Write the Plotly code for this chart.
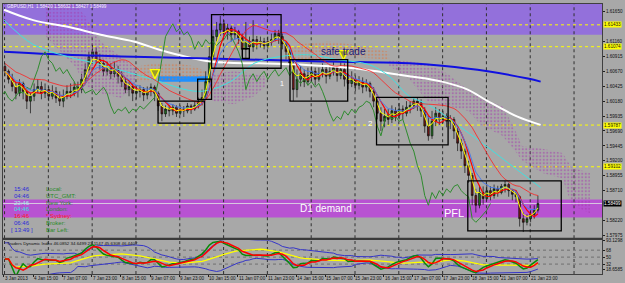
import numpy as np
import pandas as pd
import plotly.graph_objects as go

# ---------------- data (GBPUSD H1, 3-21 Jan 2013, 2-hour candles) ----------------
first_open = 1.6075
close = [1.6067, 1.6054, 1.6042, 1.6031, 1.6047, 1.6034, 1.6018, 1.6026, 1.6037, 1.6042,
         1.6031, 1.6037, 1.6026, 1.6034, 1.6023, 1.6018, 1.6026, 1.6034, 1.6031, 1.6041,
         1.6037, 1.6054, 1.6070, 1.6091, 1.6099, 1.6086, 1.6080, 1.6067, 1.6073, 1.6063,
         1.6070, 1.6059, 1.6050, 1.6037, 1.6042, 1.6031, 1.6034, 1.6037, 1.6028, 1.6034,
         1.6041, 1.6031, 1.6010, 1.5997, 1.6005, 1.6002, 1.6008, 1.5998, 1.6005, 1.6002,
         1.6010, 1.6005, 1.6011, 1.6018, 1.6024, 1.6050, 1.6091, 1.6124, 1.6135, 1.6145,
         1.6132, 1.6138, 1.6127, 1.6132, 1.6122, 1.6103, 1.6116, 1.6107, 1.6119, 1.6112,
         1.6116, 1.6109, 1.6116, 1.6119, 1.6129, 1.6124, 1.6112, 1.6099, 1.6080, 1.6037,
         1.6054, 1.6063, 1.6050, 1.6060, 1.6067, 1.6054, 1.6063, 1.6070, 1.6059, 1.6067,
         1.6073, 1.6060, 1.6070, 1.6054, 1.6047, 1.6054, 1.6044, 1.6050, 1.6041, 1.6047,
         1.6034, 1.6018, 1.5998, 1.5985, 1.5993, 1.5988, 1.6002, 1.5995, 1.6005, 1.5998,
         1.6008, 1.6011, 1.6018, 1.6015, 1.6002, 1.5977, 1.5961, 1.5985, 1.5998, 1.5988,
         1.5993, 1.5985, 1.5988, 1.5969, 1.5949, 1.5936, 1.5912, 1.5896, 1.5863, 1.5847,
         1.5868, 1.5858, 1.5871, 1.5863, 1.5874, 1.5868, 1.5878, 1.5881, 1.5871, 1.5865,
         1.5861, 1.5825, 1.5819, 1.5825, 1.5832, 1.5839, 1.5850]
high = [1.6080, 1.6070, 1.6063, 1.6050, 1.6054, 1.6050, 1.6037, 1.6031, 1.6047, 1.6054,
        1.6050, 1.6047, 1.6042, 1.6044, 1.6041, 1.6034, 1.6037, 1.6044, 1.6047, 1.6050,
        1.6050, 1.6063, 1.6080, 1.6099, 1.6111, 1.6106, 1.6096, 1.6086, 1.6083, 1.6080,
        1.6083, 1.6076, 1.6067, 1.6057, 1.6050, 1.6047, 1.6042, 1.6044, 1.6041, 1.6042,
        1.6047, 1.6044, 1.6034, 1.6015, 1.6011, 1.6011, 1.6013, 1.6011, 1.6011, 1.6010,
        1.6015, 1.6013, 1.6018, 1.6024, 1.6037, 1.6067, 1.6107, 1.6135, 1.6148, 1.6158,
        1.6151, 1.6145, 1.6142, 1.6140, 1.6135, 1.6129, 1.6148, 1.6124, 1.6151, 1.6125,
        1.6124, 1.6122, 1.6124, 1.6129, 1.6135, 1.6135, 1.6129, 1.6116, 1.6103, 1.6083,
        1.6070, 1.6076, 1.6070, 1.6073, 1.6076, 1.6073, 1.6073, 1.6080, 1.6075, 1.6078,
        1.6083, 1.6076, 1.6083, 1.6080, 1.6063, 1.6067, 1.6060, 1.6059, 1.6057, 1.6054,
        1.6050, 1.6041, 1.6021, 1.6008, 1.6005, 1.6005, 1.6011, 1.6008, 1.6015, 1.6011,
        1.6018, 1.6018, 1.6024, 1.6023, 1.6021, 1.6008, 1.5993, 1.6002, 1.6008, 1.6005,
        1.6002, 1.5998, 1.5995, 1.5992, 1.5977, 1.5956, 1.5940, 1.5920, 1.5900, 1.5874,
        1.5879, 1.5878, 1.5881, 1.5878, 1.5881, 1.5879, 1.5882, 1.5887, 1.5884, 1.5874,
        1.5871, 1.5863, 1.5835, 1.5832, 1.5839, 1.5847, 1.5863]
low = [1.6059, 1.6047, 1.6034, 1.6021, 1.6026, 1.6021, 1.6005, 1.5998, 1.6018, 1.6031,
       1.6021, 1.6023, 1.6018, 1.6021, 1.6015, 1.6010, 1.6008, 1.6021, 1.6023, 1.6026,
       1.6024, 1.6031, 1.6050, 1.6067, 1.6083, 1.6080, 1.6070, 1.6059, 1.6060, 1.6054,
       1.6057, 1.6047, 1.6041, 1.6031, 1.6026, 1.6018, 1.6021, 1.6024, 1.6018, 1.6021,
       1.6026, 1.6018, 1.6002, 1.5985, 1.5992, 1.5993, 1.5995, 1.5992, 1.5995, 1.5992,
       1.5998, 1.5997, 1.6002, 1.6006, 1.6011, 1.6021, 1.6047, 1.6086, 1.6116, 1.6125,
       1.6124, 1.6119, 1.6116, 1.6119, 1.6112, 1.6091, 1.6088, 1.6096, 1.6099, 1.6103,
       1.6106, 1.6103, 1.6104, 1.6109, 1.6116, 1.6112, 1.6103, 1.6086, 1.6067, 1.6018,
       1.6024, 1.6042, 1.6041, 1.6044, 1.6050, 1.6044, 1.6050, 1.6057, 1.6047, 1.6054,
       1.6060, 1.6050, 1.6054, 1.6042, 1.6037, 1.6041, 1.6034, 1.6037, 1.6031, 1.6034,
       1.6024, 1.6008, 1.5988, 1.5969, 1.5975, 1.5979, 1.5982, 1.5985, 1.5988, 1.5988,
       1.5993, 1.5998, 1.6005, 1.6002, 1.5992, 1.5966, 1.5953, 1.5956, 1.5977, 1.5979,
       1.5982, 1.5975, 1.5972, 1.5956, 1.5936, 1.5923, 1.5900, 1.5884, 1.5847, 1.5835,
       1.5842, 1.5848, 1.5855, 1.5855, 1.5858, 1.5861, 1.5865, 1.5868, 1.5861, 1.5855,
       1.5852, 1.5812, 1.5803, 1.5814, 1.5819, 1.5825, 1.5835]

# slow averages (hour-bar index, price)
white_x = [0, 16, 35, 53, 71, 89, 113, 140, 162, 189, 222, 240, 254, 265, 281, 294]
white_y = [1.6168, 1.6151, 1.6140, 1.6127, 1.6116, 1.6099, 1.6083, 1.6080, 1.6078, 1.6073,
           1.6059, 1.6050, 1.6037, 1.6018, 1.5993, 1.5979]
blue_x = [0, 35, 71, 113, 140, 178, 222, 240, 265, 287, 294]
blue_y = [1.6099, 1.6094, 1.6091, 1.6088, 1.6086, 1.6083, 1.6080, 1.6076, 1.6067, 1.6055, 1.6050]
cyan_x = [0, 16, 35, 53, 80, 107, 124, 137, 151, 167, 183, 200, 211, 222, 232, 258, 276, 294]
cyan_y = [1.6151, 1.6111, 1.6091, 1.6078, 1.6055, 1.6034, 1.6050, 1.6080, 1.6091, 1.6094,
          1.6086, 1.6078, 1.6059, 1.6026, 1.6013, 1.5958, 1.5917, 1.5876]

# ichimoku cloud pieces: (bars, top, bottom)
cloud1_x = [23, 31, 39, 45, 53, 64, 72]
cloud1_top = [1.6176, 1.6176, 1.6176, 1.6156, 1.6116, 1.6091, 1.6072]
cloud1_bot = [1.6124, 1.6099, 1.6075, 1.6042, 1.6031, 1.6023, 1.6042]
cloud2_x = [73, 83, 94, 105, 110]
cloud2_top = [1.6075, 1.6080, 1.6080, 1.6075, 1.6067]
cloud2_bot = [1.6050, 1.6050, 1.6054, 1.6057, 1.6060]
cloud3_x = [114, 126, 137, 143]
cloud3_top = [1.6063, 1.6067, 1.6063, 1.6059]
cloud3_bot = [1.6018, 1.6013, 1.6026, 1.6042]
cloud4_x = [154, 162, 178, 189, 200, 211]
cloud4_top = [1.6099, 1.6112, 1.6116, 1.6112, 1.6106, 1.6099]
cloud4_bot = [1.6088, 1.6086, 1.6089, 1.6091, 1.6089, 1.6086]
cloud5_x = [211, 222, 232, 243, 254, 262, 273, 279, 284, 295, 306, 311, 321]
cloud5_top = [1.6086, 1.6083, 1.6080, 1.6063, 1.6037, 1.6021, 1.6010, 1.5977, 1.5944,
              1.5940, 1.5933, 1.5909, 1.5900]
cloud5_bot = [1.6076, 1.6054, 1.6018, 1.6010, 1.6002, 1.5977, 1.5961, 1.5940, 1.5920,
              1.5900, 1.5891, 1.5847, 1.5834]

# zones, levels, boxes
supply_zone = (1.6127, 1.6190)
demand_zone = (1.58271, 1.58564)
yellow_levels = [1.61433, 1.61074, 1.59787, 1.59102]
bid = 1.58499
boxes = [(84.4, 109.9, 1.5982, 1.6018), (106.1, 113.7, 1.6021, 1.6054),
         (113.7, 151.8, 1.6072, 1.6160), (130.6, 134.4, 1.6088, 1.6104),
         (156.7, 188.3, 1.6018, 1.6086), (204.1, 243.3, 1.5946, 1.6024),
         (254.1, 305.3, 1.5805, 1.5887)]
blue_zone = (84.4, 112.7, 1.6050, 1.6059)
arrows_x = [82.7, 186.0]
arrows_y = [1.6055, 1.6086]

price_ticks = [1.61650, 1.61160, 1.60915, 1.60670, 1.60425, 1.60180, 1.59935,
               1.59690, 1.59445, 1.59200, 1.58955, 1.58710, 1.58220, 1.57975]
time_labels = ["3 Jan 2013", "4 Jan 15:00", "7 Jan 07:00", "7 Jan 23:00", "8 Jan 15:00",
               "9 Jan 07:00", "9 Jan 23:00", "10 Jan 15:00", "11 Jan 07:00", "11 Jan 23:00",
               "14 Jan 15:00", "15 Jan 07:00", "15 Jan 23:00", "16 Jan 15:00", "17 Jan 07:00",
               "17 Jan 23:00", "18 Jan 15:00", "21 Jan 07:00", "21 Jan 23:00"]
time_label_bars = [16 * k for k in range(len(time_labels))]
day_lines = [0.3 + 24 * k for k in range(14)]

clock_times = ["15:46", "04:46", "23:46", "04:46", "16:46", "06:46", "[ 13:49 ]"]
clock_names = ["Local:", "UTC_GMT:", "New York:", "London:", "* Sydney:", "Broker:", "Bar Left:"]
clock_tcol = ["#2b2bd8", "#2b2bd8", "#9ff5e8", "#30e0e0", "#ff1a1a", "#2b2bd8", "#2b2bd8"]
clock_ncol = ["#2a8a2a", "#2a8a2a", "#2a8a2a", "#2a8a2a", "#ff1a1a", "#2a8a2a", "#2a8a2a"]

# ---------------- geometry helpers ----------------
W, H = 625, 283
ML, MR, MT, MB = 2, 20, 2, 9
PW, PH = W - ML - MR, H - MT - MB
BARPX = 1.8375
X0 = -1 / BARPX
X1 = (605 - 3) / BARPX


def px(xp):
    return (xp - ML) / PW


def py(yp):
    return (H - MB - yp) / PH


GRAY = "#a8a8a8"
FONT = "Liberation Sans, Arial, sans-serif"

n = len(close)
bars = np.array([2 * i + 0.5 for i in range(n)])
opn = [first_open] + close[:-1]
hi = [max(h, o, c) for h, o, c in zip(high, opn, close)]
lo = [min(l, o, c) for l, o, c in zip(low, opn, close)]
s = pd.Series(close)

fig = go.Figure()


def cloud(xs, top, bot, col):
    fig.add_trace(go.Scatter(
        x=list(xs) + list(xs)[::-1], y=list(top) + list(bot)[::-1],
        fill="toself", mode="lines", line=dict(width=0, color="rgba(0,0,0,0)"),
        fillcolor="rgba(0,0,0,0)",
        fillpattern=dict(shape=".", fgcolor=col, bgcolor="rgba(0,0,0,0)", size=3.5, solidity=0.3),
        hoverinfo="skip", xaxis="x", yaxis="y"))


PINK = "#a43aac"
ORANGE = "#e0743a"
cloud(cloud1_x, cloud1_top, cloud1_bot, PINK)
cloud(cloud2_x, cloud2_top, cloud2_bot, ORANGE)
cloud(cloud3_x, cloud3_top, cloud3_bot, PINK)
cloud(cloud4_x, cloud4_top, cloud4_bot, ORANGE)
cloud(cloud5_x, cloud5_top, cloud5_bot, PINK)

# slow lines
fig.add_trace(go.Scatter(x=white_x, y=white_y, mode="lines", line=dict(color="white", width=2, shape="spline"),
                         xaxis="x", yaxis="y"))
fig.add_trace(go.Scatter(x=blue_x, y=blue_y, mode="lines", line=dict(color="#1010e0", width=2, shape="spline"),
                         xaxis="x", yaxis="y"))
fig.add_trace(go.Scatter(x=cyan_x, y=cyan_y, mode="lines", line=dict(color="#40e0e0", width=1, shape="spline"),
                         xaxis="x", yaxis="y"))
# chikou span (close shifted back 26 hours)
fig.add_trace(go.Scatter(x=bars - 26, y=close, mode="lines", line=dict(color="#2e8b2e", width=1),
                         xaxis="x", yaxis="y"))

# candles
fig.add_trace(go.Candlestick(
    x=bars, open=opn, high=hi, low=lo, close=close,
    increasing=dict(line=dict(color="#101010", width=0.7), fillcolor="#1f7a1f"),
    decreasing=dict(line=dict(color="#101010", width=0.7), fillcolor="#7a1515"),
    whiskerwidth=0, xaxis="x", yaxis="y", hoverinfo="skip"))

# fast averages
fig.add_trace(go.Scatter(x=bars, y=pd.Series(high).rolling(12, min_periods=1).mean(), mode="lines",
                         line=dict(color="#ff2020", width=0.8), xaxis="x", yaxis="y"))
fig.add_trace(go.Scatter(x=bars, y=s.rolling(5, min_periods=1).mean(), mode="lines",
                         line=dict(color="#ff0000", width=1.2), xaxis="x", yaxis="y"))
fig.add_trace(go.Scatter(x=bars, y=s.ewm(span=7, adjust=False).mean(), mode="lines",
                         line=dict(color="#4a7ae8", width=1), xaxis="x", yaxis="y"))
fig.add_trace(go.Scatter(x=bars, y=s.ewm(span=3, adjust=False).mean(), mode="lines",
                         line=dict(color="#ffff00", width=1), xaxis="x", yaxis="y"))

# arrows
fig.add_trace(go.Scatter(x=arrows_x, y=arrows_y, mode="markers",
                         marker=dict(symbol="arrow-down", size=9, color="#9a9a28",
                                     line=dict(color="#ffff00", width=1.3)),
                         xaxis="x", yaxis="y"))

# ---------------- TDI ----------------
d = s.diff().fillna(0)
up = d.clip(lower=0).ewm(alpha=1 / 7, adjust=True).mean()
dn = (-d.clip(upper=0)).ewm(alpha=1 / 7, adjust=True).mean()
rsi = (100 - 100 / (1 + up / dn.replace(0, np.nan))).fillna(50)
rsi.iloc[:2] = 45
green = rsi.rolling(2, min_periods=1).mean()
red = rsi.rolling(4, min_periods=1).mean()
base = rsi.rolling(17, min_periods=1).mean()
sd = rsi.rolling(17, min_periods=3).std().bfill()
for yv, col, w in [(base + 1.6185 * sd, "#3535c8", 1), (base - 1.6185 * sd, "#3535c8", 1),
                   (base, "#ffff00", 1.3), (green, "#0a8a0a", 1.5), (red, "#ff0000", 1.5)]:
    fig.add_trace(go.Scatter(x=bars, y=yv, mode="lines", line=dict(color=col, width=w),
                             xaxis="x2", yaxis="y2"))

# ---------------- shapes ----------------
shapes = []
shapes.append(dict(type="rect", xref="paper", x0=0, x1=1, yref="y", y0=supply_zone[0], y1=supply_zone[1],
                   fillcolor="#9370db", line=dict(width=0), layer="below"))
shapes.append(dict(type="rect", xref="paper", x0=0, x1=1, yref="y", y0=demand_zone[0], y1=demand_zone[1],
                   fillcolor="#b852d2", line=dict(width=0), layer="below"))
shapes.append(dict(type="line", xref="paper", x0=0, x1=1, yref="y", y0=bid, y1=bid,
                   line=dict(color="#d8c8e0", width=1), layer="below"))
for xv in day_lines:
    for yr in ["y", "y2"]:
        shapes.append(dict(type="line", xref="x", x0=xv, x1=xv, yref=yr + " domain", y0=0, y1=1,
                           line=dict(color="#303030", width=1, dash="dot"), layer="below"))
for lv in yellow_levels:
    shapes.append(dict(type="line", xref="paper", x0=0, x1=1, yref="y", y0=lv, y1=lv,
                       line=dict(color="#ffff00", width=1, dash="dot"), layer="below"))
for lv in [68, 50, 32]:
    shapes.append(dict(type="line", xref="paper", x0=0, x1=1, yref="y2", y0=lv, y1=lv,
                       line=dict(color="#707070", width=1, dash="dot"), layer="below"))
shapes.append(dict(type="rect", xref="x", x0=blue_zone[0], x1=blue_zone[1], yref="y",
                   y0=blue_zone[2], y1=blue_zone[3], fillcolor="#1e90ff", line=dict(width=0), layer="below"))
for b0, b1, p0, p1 in boxes:
    shapes.append(dict(type="rect", xref="x", x0=b0, x1=b1, yref="y", y0=p0, y1=p1,
                       line=dict(color="black", width=1.3), fillcolor="rgba(0,0,0,0)", layer="above"))
# panel separator
shapes.append(dict(type="line", xref="paper", x0=0, x1=1, yref="paper", y0=py(238.5), y1=py(238.5),
                   line=dict(color="#3a3a3a", width=2)))

# ---------------- annotations ----------------
ann = []
for t, b in zip(time_labels, time_label_bars):
    ann.append(dict(x=b, xref="x2", y=py(278.5), yref="paper", text=t, showarrow=False,
                    xanchor="left", yanchor="middle", xshift=-1, font=dict(size=4.6, color="#111111", family=FONT)))
ann.append(dict(x=px(4), xref="paper", y=py(5), yref="paper",
                text="GBPUSD,H1  1.58420 1.58632 1.58427 1.58499", showarrow=False,
                xanchor="left", yanchor="middle", font=dict(size=4.6, color="#f4eef8", family=FONT)))
ann.append(dict(x=px(4), xref="paper", y=py(243.5), yref="paper",
                text="Traders Dynamic Index 46.0852 34.6499 23.1147 45.6308 46.4407", showarrow=False,
                xanchor="left", yanchor="middle", font=dict(size=4.4, color="#111111", family=FONT)))
rows_y = [188, 195, 202, 209, 216, 223, 230]
for t, nm, tc, nc, yy in zip(clock_times, clock_names, clock_tcol, clock_ncol, rows_y):
    ann.append(dict(x=px(21), xref="paper", y=py(yy), yref="paper", text=t, showarrow=False,
                    xanchor="center", yanchor="middle", font=dict(size=6, color=tc, family=FONT)))
    ann.append(dict(x=px(43), xref="paper", y=py(yy), yref="paper", text=nm, showarrow=False,
                    xanchor="left", yanchor="middle", font=dict(size=6, color=nc, family=FONT)))
ann.append(dict(x=186, xref="x", y=1.6099, yref="y", text="safe trade", showarrow=False,
                font=dict(size=10, color="#1c1c78", family=FONT)))
ann.append(dict(x=176.3, xref="x", y=1.5842, yref="y", text="D1 demand", showarrow=False,
                font=dict(size=10, color="white", family=FONT)))
ann.append(dict(x=246.5, xref="x", y=1.5835, yref="y", text="PFL", showarrow=False,
                font=dict(size=11, color="white", family=FONT)))
ann.append(dict(x=152.4, xref="x", y=1.6047, yref="y", text="1", showarrow=False,
                font=dict(size=7, color="white", family=FONT)))
ann.append(dict(x=200.8, xref="x", y=1.5982, yref="y", text="2", showarrow=False,
                font=dict(size=8, color="white", family=FONT)))
for lv in yellow_levels:
    ann.append(dict(x=1, xref="paper", y=lv, yref="y", text="%.5f" % lv, showarrow=False,
                    xanchor="left", yanchor="middle", xshift=1, bgcolor="#ffff00", borderpad=0,
                    font=dict(size=4.6, color="#111111", family=FONT)))
ann.append(dict(x=1, xref="paper", y=bid, yref="y", text="%.5f" % bid, showarrow=False,
                xanchor="left", yanchor="middle", xshift=1, bgcolor="#000000", borderpad=0,
                font=dict(size=4.6, color="white", family=FONT)))

fig.update_layout(
    width=W, height=H, margin=dict(l=ML, r=MR, t=MT, b=MB),
    paper_bgcolor=GRAY, plot_bgcolor=GRAY, showlegend=False, hovermode=False,
    shapes=shapes, annotations=ann,
    xaxis=dict(domain=[0, 1], anchor="y", range=[X0, X1], showgrid=False, zeroline=False,
               showticklabels=False, rangeslider=dict(visible=False), showline=True,
               linecolor="#404040", linewidth=1, mirror=True),
    xaxis2=dict(domain=[0, 1], anchor="y2", range=[X0, X1], matches="x", showgrid=False, zeroline=False,
                showticklabels=False, tickvals=time_label_bars, ticks="outside", ticklen=2,
                tickcolor="#202020", showline=True, linecolor="#404040", linewidth=1, mirror=True),
    yaxis=dict(domain=[py(238), 1], range=[1.57928, 1.61775], side="right", showgrid=False,
               zeroline=False, tickvals=price_ticks, ticktext=["%.5f" % v for v in price_ticks],
               ticks="outside", ticklen=2, tickcolor="#202020",
               tickfont=dict(size=4.6, color="#111111", family=FONT),
               showline=True, linecolor="#404040", linewidth=1, mirror=True),
    yaxis2=dict(domain=[0, py(240)], range=[6.3, 93.7], side="right", showgrid=False, zeroline=False,
                tickvals=[93.1298, 68, 50, 32, 18.6585], ticktext=["93.1298", "68", "50", "32", "18.6585"],
                ticks="outside", ticklen=2, tickcolor="#202020",
                tickfont=dict(size=4.6, color="#111111", family=FONT),
                showline=True, linecolor="#404040", linewidth=1, mirror=True),
)

fig.write_html("out.html")
